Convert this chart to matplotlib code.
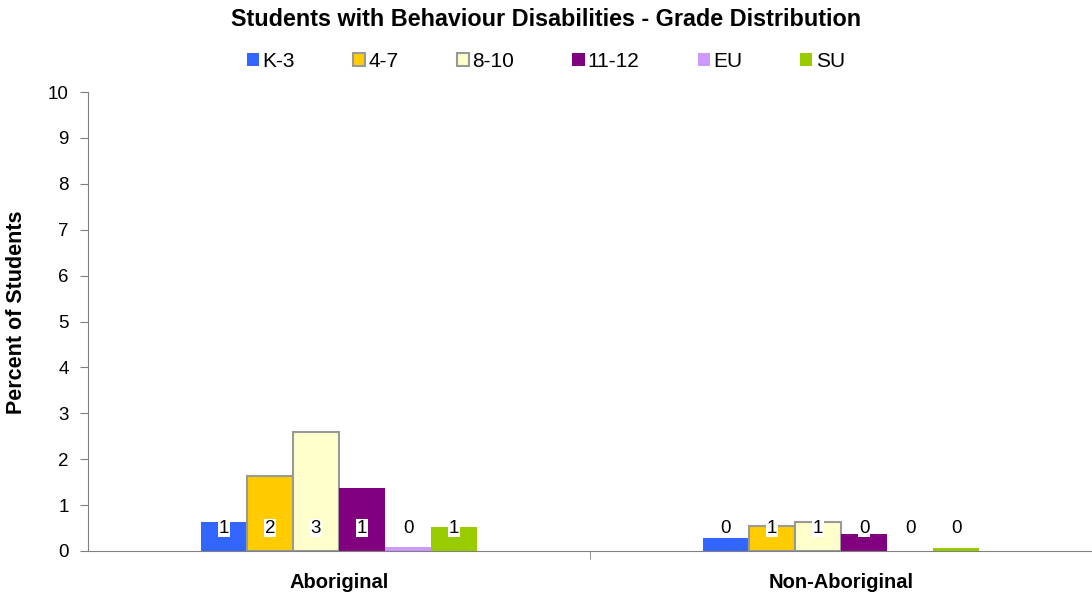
import matplotlib
matplotlib.use("Agg")
import matplotlib.pyplot as plt
import numpy as np

plt.rcParams['font.family'] = ['Liberation Sans', 'DejaVu Sans']

# Data
groups = ['Aboriginal', 'Non-Aboriginal']
grades = ['K-3', '4-7', '8-10', '11-12', 'EU', 'SU']
k3 = [0.63, 0.28]
g4_7 = [1.63, 0.55]
g8_10 = [2.59, 0.63]
g11_12 = [1.37, 0.37]
eu = [0.09, 0.0]
su = [0.52, 0.07]

series = [k3, g4_7, g8_10, g11_12, eu, su]
colors = ['#3366FF', '#FFCC00', '#FFFFCC', '#800080', '#CC99FF', '#99CC00']
edges = [None, '#999999', '#999999', None, None, None]

fig = plt.figure(figsize=(10.92, 5.94), dpi=100)
ax = fig.add_axes([0.0806, 0.0724, 0.9194, 0.7727])

x = np.arange(len(groups))
width = 0.55 / len(grades)

for i, (vals, col, ec) in enumerate(zip(series, colors, edges)):
    pos = x + (i - 2.5) * width
    if ec:
        ax.bar(pos, vals, width, color=col, edgecolor=ec, linewidth=1.5, label=grades[i])
    else:
        ax.bar(pos, vals, width, color=col, linewidth=0, label=grades[i])
    for p, v in zip(pos, vals):
        ax.text(p, 0.5, f"{v:.0f}", ha='center', va='center', fontsize=13.5,
                bbox=dict(facecolor='white', edgecolor='none', pad=0.3))

ax.set_xlim(-0.5, 1.5)
ax.set_ylim(0, 10)
ax.set_yticks(range(0, 11))
ax.tick_params(axis='y', labelsize=13.5, length=6, color='#808080', pad=8)

ax.set_xticks(x)
ax.set_xticklabels(groups, fontsize=14.5, fontweight='bold')
ax.tick_params(axis='x', length=0, pad=16)
ax.set_xticks([0.5], minor=True)
ax.tick_params(axis='x', which='minor', length=6, color='#808080')

for s in ['top', 'right']:
    ax.spines[s].set_visible(False)
for s in ['left', 'bottom']:
    ax.spines[s].set_color('#808080')

ax.set_ylabel('Percent of Students', fontsize=15.5, fontweight='bold')
ax.yaxis.set_label_coords(-0.061, 0.52)

fig.suptitle('Students with Behaviour Disabilities - Grade Distribution',
             fontsize=16.8, fontweight='bold', y=0.987)
fig.legend(loc='center', bbox_to_anchor=(0.5, 0.897), ncol=6, frameon=False,
           fontsize=15, handlelength=0.58, handleheight=0.58, handletextpad=0.15,
           columnspacing=2.8)

fig.savefig('out.png', dpi=100)
